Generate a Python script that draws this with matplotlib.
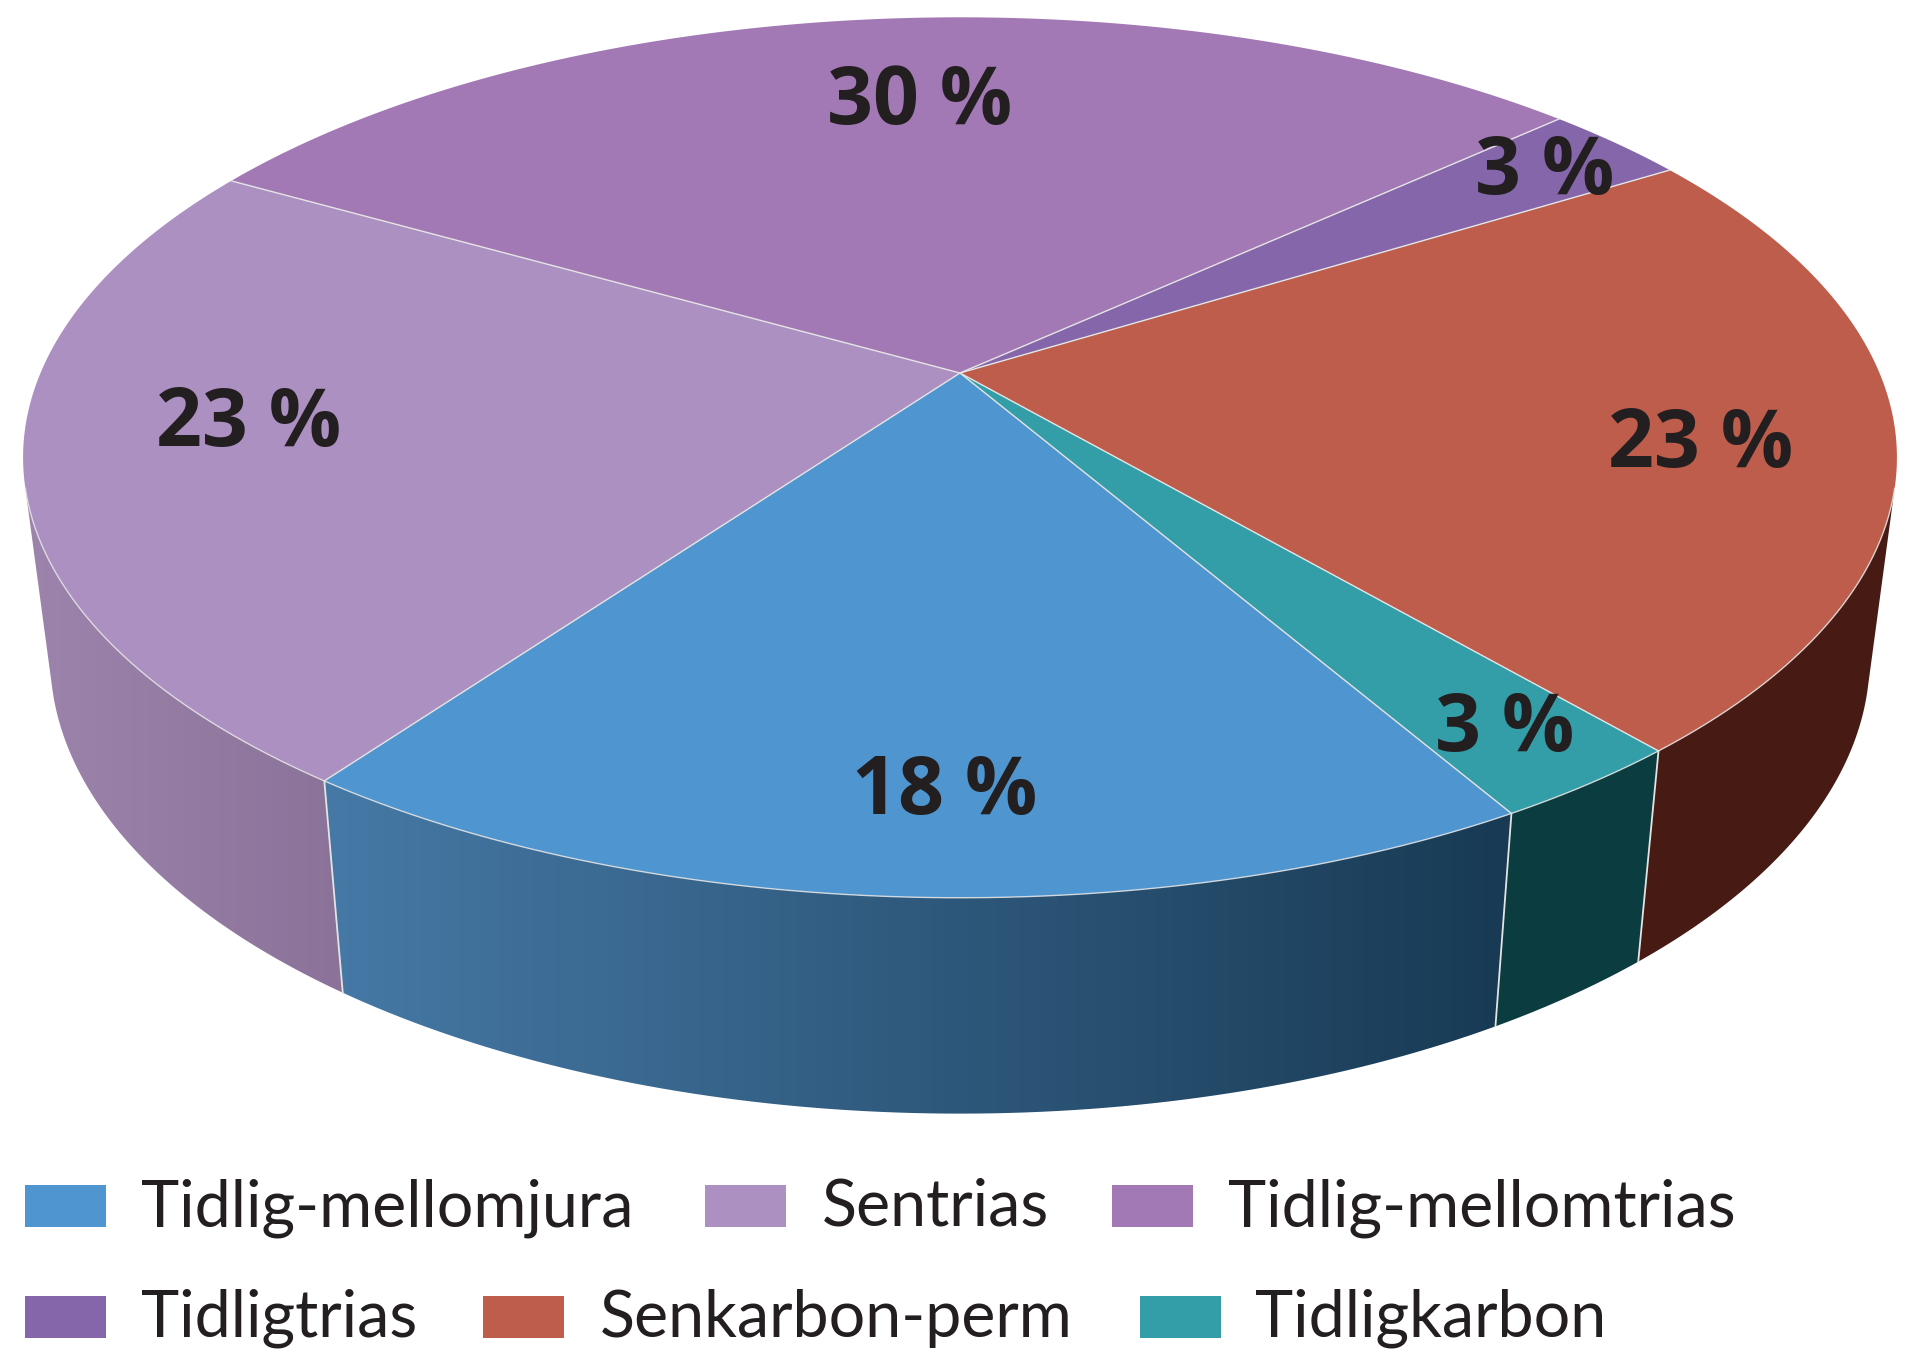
import numpy as np
import matplotlib
matplotlib.use("Agg")
import matplotlib.pyplot as plt
from matplotlib.colors import LinearSegmentedColormap
from matplotlib.patches import Polygon, Rectangle

# slices, counter-clockwise from the lower left rim
names = ["Tidlig-mellomjura", "Tidligkarbon", "Senkarbon-perm", "Tidligtrias", "Tidlig-mellomtrias", "Sentrias"]
values = [18.25, 2.9, 22.6, 3.0, 29.9, 23.35]
top_colors = ["#4F95D0", "#339EA8", "#BE5D4B", "#8566AB", "#A379B5", "#AD90C2"]
label_pos = [(945, 793), (1505, 730), (1701, 446), (1545, 173), (920, 103), (249, 425)]
label_text = ["18 %", "3 %", "23 %", "3 %", "30 %", "23 %"]

# legend rows as they stand in the picture: name, swatch x, text x
legend_row1 = [("Tidlig-mellomjura", 25, 141), ("Sentrias", 705, 822), ("Tidlig-mellomtrias", 1112, 1228)]
legend_row2 = [("Tidligtrias", 25, 141), ("Senkarbon-perm", 483, 600), ("Tidligkarbon", 1140, 1255)]
legend_colors = dict(zip(names, top_colors))

START = 234.3
CX, CY = 960, 373
A, B, K = 919.5, 424, 0.192
EDGE = "#E4E4E4"


def top_rim(deg):
    t = np.radians(deg)
    w = 1 + K * np.sin(t)
    return CX + A * np.cos(t) / w, CY - B * np.sin(t) / w


def bottom_rim(deg):
    x, y = top_rim(deg)
    return CX + 0.971 * (x - CX), CY + 1.035 * (y - CY) + 197.5


def side(deg1, deg2, color=None, grad=None):
    t = np.linspace(deg1, deg2, 80)
    xt, yt = top_rim(t)
    xb, yb = bottom_rim(t)
    pts = np.r_[np.c_[xt, yt], np.c_[xb, yb][::-1]]
    if grad is None:
        ax.add_patch(Polygon(pts, closed=True, fc=color, ec="none", zorder=2))
        return
    cmap = LinearSegmentedColormap.from_list("g", grad)
    x0, x1 = pts[:, 0].min(), pts[:, 0].max()
    y0, y1 = pts[:, 1].min(), pts[:, 1].max()
    im = ax.imshow(np.linspace(0, 1, 256)[None, :], cmap=cmap, extent=(x0, x1, y1, y0),
                   aspect="auto", zorder=2)
    im.set_clip_path(Polygon(pts, closed=True, transform=ax.transData))


fig = plt.figure(figsize=(19.2, 13.59), dpi=100)
ax = fig.add_axes([0, 0, 1, 1])

edges = START + np.cumsum([0] + values) * 3.6

side(195, edges[0], grad=["#9C84AC", "#8B7299"])
side(edges[0], edges[1], grad=["#4679A6", "#183A54"])
side(edges[1], edges[2], color="#0A3C40")
side(edges[2], 345, color="#481A14")

for d in edges[:3]:
    x0, y0 = top_rim(d)
    x1, y1 = bottom_rim(d)
    ax.plot([x0, x1], [y0, y1], color=EDGE, lw=1.3, zorder=3)

for i in range(len(values)):
    t = np.linspace(edges[i], edges[i + 1], 120)
    x, y = top_rim(t)
    pts = np.r_[[[CX, CY]], np.c_[x, y]]
    ax.add_patch(Polygon(pts, closed=True, fc=top_colors[i], ec="none", zorder=4))
    ax.plot([CX, x[0]], [CY, y[0]], color=EDGE, lw=1.0, zorder=5)

# light line along the front rim only
rx, ry = top_rim(np.linspace(195, 345, 300))
ax.plot(rx, ry, color=EDGE, lw=1.0, alpha=0.85, zorder=5)

for (px, py), s in zip(label_pos, label_text):
    ax.text(px, py, s, family="Open Sans", weight="bold", fontsize=58, color="#231F20",
            ha="center", va="center", zorder=6)

for row, sy, by in [(legend_row1, 1185, 1226), (legend_row2, 1296, 1337)]:
    for name, sx, tx in row:
        ax.add_patch(Rectangle((sx, sy), 81, 42, fc=legend_colors[name], ec="none"))
        ax.text(tx, by, name, family="Lato", fontsize=46.5, color="#231F20", ha="left", va="baseline")

ax.set_xlim(0, 1920)
ax.set_ylim(1359, 0)
ax.axis("off")
fig.savefig("out.png", dpi=100, facecolor="white")
